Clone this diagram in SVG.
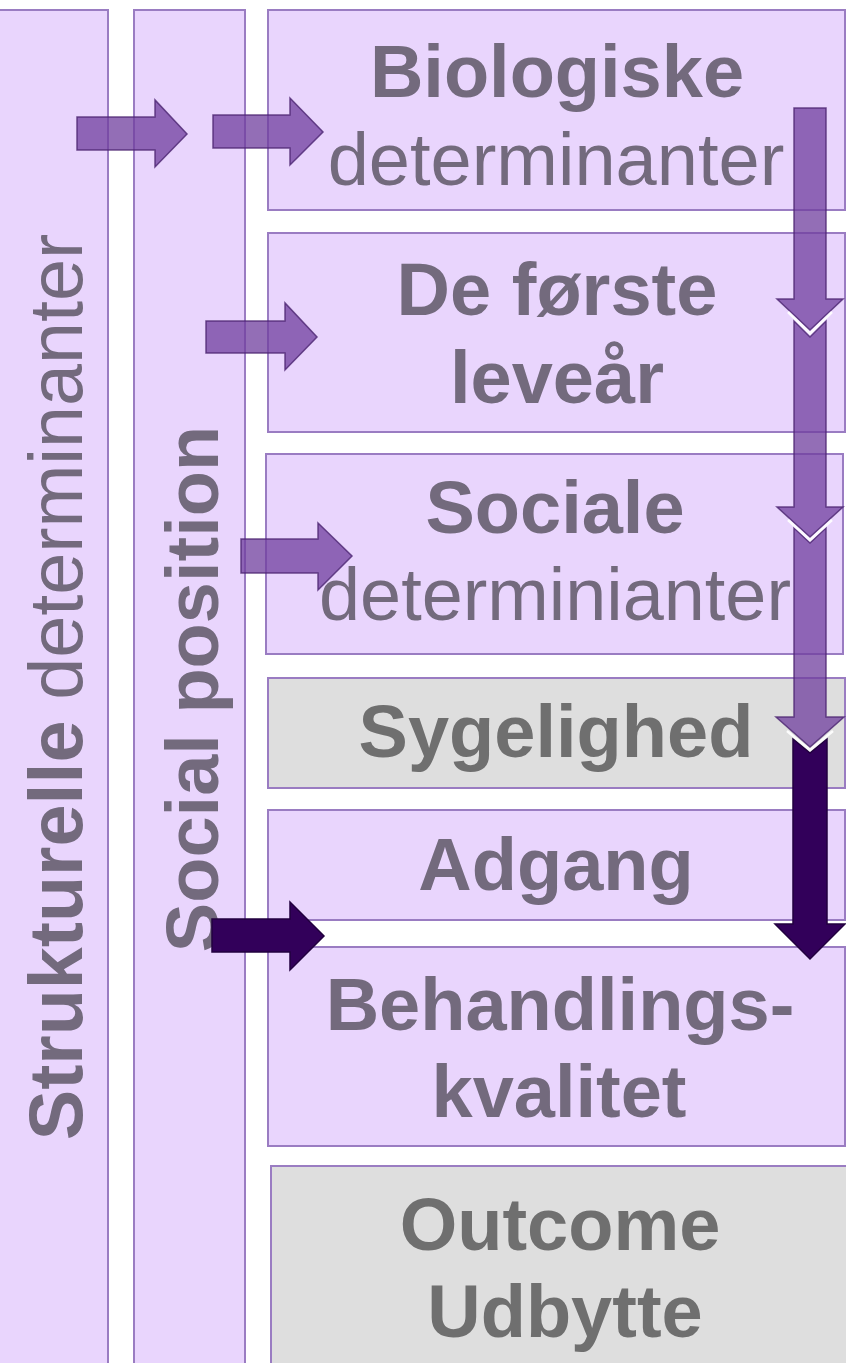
<svg xmlns="http://www.w3.org/2000/svg" width="846" height="1363" viewBox="0 0 846 1363">
<defs>
<style>
.box{fill:#e9d5fd;stroke:#9a7cc2;stroke-width:2}
.gbox{fill:#dedede;stroke:#9a7cc2;stroke-width:2}
.t{font-family:"Liberation Sans",Arial,sans-serif;font-size:74px;fill:#736a7d;text-anchor:middle}
.g{fill:#6f6f6f}
.b{font-weight:bold}
.arr{fill:#6f3d9e;fill-opacity:0.75;stroke:#4b2470;stroke-opacity:0.8;stroke-width:1.5;stroke-linejoin:miter}
.dark{fill:#32005a;stroke:#22003f;stroke-width:1.5}
.gap{fill:none;stroke:#ffffff;stroke-width:2.5;stroke-opacity:0.9}
</style>
</defs>
<rect width="846" height="1363" fill="#ffffff"/>
<g id="col-strukturelle">
<rect class="box" x="-2" y="10" width="110" height="1365"/>
<text class="t" style="font-size:75.5px" transform="translate(82,687) rotate(-90)"><tspan class="b">Strukturelle</tspan> determinanter</text>
</g>
<g id="col-social">
<rect class="box" x="134" y="10" width="111" height="1365"/>
<text class="t b" transform="translate(218,689) rotate(-90)">Social position</text>
</g>
<g id="biologiske">
<rect class="box" x="268" y="10" width="577" height="200"/>
<text class="t b" x="557" y="97">Biologiske</text>
<text class="t" x="556" y="185">determinanter</text>
</g>
<g id="foerste">
<rect class="box" x="268" y="233" width="577" height="199"/>
<text class="t b" x="557" y="315">De første</text>
<text class="t b" x="557" y="403">leveår</text>
</g>
<g id="sociale">
<rect class="box" x="266" y="454" width="577" height="200"/>
<text class="t b" x="555" y="533">Sociale</text>
<text class="t" x="555" y="620" textLength="472" lengthAdjust="spacingAndGlyphs">determinianter</text>
</g>
<g id="sygelighed">
<rect class="gbox" x="268" y="678" width="577" height="110"/>
<text class="t b g" x="556" y="757">Sygelighed</text>
</g>
<g id="adgang">
<rect class="box" x="268" y="810" width="577" height="110"/>
<text class="t b" x="556" y="890">Adgang</text>
</g>
<g id="behandling">
<rect class="box" x="268" y="947" width="577" height="199"/>
<text class="t b" x="560" y="1030">Behandlings-</text>
<text class="t b" x="559" y="1117">kvalitet</text>
</g>
<g id="outcome">
<rect class="gbox" x="271" y="1166" width="580" height="210"/>
<text class="t b g" x="560" y="1250">Outcome</text>
<text class="t b g" x="565" y="1337">Udbytte</text>
</g>
<g id="connectors">
<polygon class="arr" points="77,117 155,117 155,100 187,134 155,167 155,150 77,150"/>
<polygon class="arr" points="213,115 290,115 290,98 323,132 290,165 290,148 213,148"/>
<polygon class="arr" points="206,321 285,321 285,303 317,337 285,370 285,353 206,353"/>
<polygon class="arr" points="241,539 318,539 318,523 352,556 318,590 318,573 241,573"/>
<polygon class="dark" points="212,919 290,919 290,902 324,936 290,970 290,952 212,952"/>
<polygon class="arr" points="794,108 826,108 826,299 843,299 810,330 777,299 794,299"/>
<polygon class="arr" points="794,321 810,337 826,321 826,507 843,507 810,537 777,507 794,507"/>
<polyline class="gap" points="788,312 810,333.5 832,312"/>
<polygon class="arr" points="794,528 810,543 826,528 826,717 844,717 810,747 776,717 794,717"/>
<polyline class="gap" points="788,520 810,540 832,520"/>
<polygon class="dark" points="793,739 810,753 827,739 827,924 845,924 810,959 775,924 793,924"/>
<polyline class="gap" points="787,731 810,750 833,731"/>
</g>
</svg>
